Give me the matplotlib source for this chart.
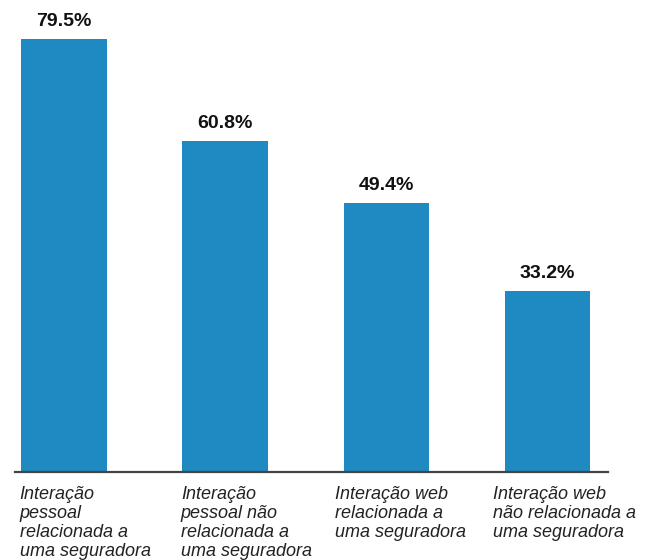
import numpy as np
import matplotlib.pyplot as plt

# Data
categories = [
    "Interação\npessoal\nrelacionada a\numa seguradora",
    "Interação\npessoal não\nrelacionada a\numa seguradora",
    "Interação web\nrelacionada a\numa seguradora",
    "Interação web\nnão relacionada a\numa seguradora",
]
values = [79.5, 60.8, 49.4, 33.2]
value_labels = ["79.5%", "60.8%", "49.4%", "33.2%"]

plt.rcParams['font.family'] = ['Liberation Sans', 'DejaVu Sans']

fig = plt.figure(figsize=(6.55, 5.6), dpi=100)
ax = fig.add_axes([15 / 655, 88 / 560, 593 / 655, 468 / 560])

x = np.arange(len(values))
bars = ax.bar(x, values, width=0.53, color='#1F89C1')

ax.set_xlim(-0.304, 3.376)
ax.set_ylim(0, 86)

# value labels above bars
for xi, v, lab in zip(x, values, value_labels):
    ax.annotate(lab, (xi, v), xytext=(0, 6.5), textcoords='offset points',
                ha='center', va='bottom', fontsize=14, fontweight='bold',
                color='#111111')

# category labels below, left aligned
offsets = [-0.275, -0.275, -0.32, -0.34]
for xi, off, cat in zip(x, offsets, categories):
    ax.text(xi + off, -2.5, cat, ha='left', va='top', fontsize=13,
            fontstyle='italic', color='#222222', linespacing=1.17,
            clip_on=False)

for side in ['top', 'right', 'left']:
    ax.spines[side].set_visible(False)
ax.spines['bottom'].set_color('#444444')
ax.spines['bottom'].set_linewidth(1.6)
ax.set_xticks([])
ax.set_yticks([])

fig.savefig('out.png', dpi=100)
